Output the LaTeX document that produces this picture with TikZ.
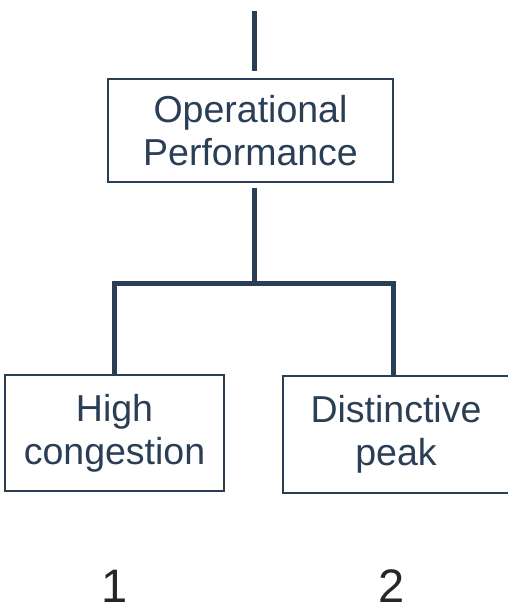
\documentclass[tikz,border=0pt]{standalone}
\usepackage{fontspec}
\setmainfont{Liberation Sans}
\usetikzlibrary{positioning}
\definecolor{navy}{HTML}{2A3E55}
\definecolor{digitgray}{HTML}{262626}
\begin{document}
\begin{tikzpicture}[x=1pt, y=-1pt]

\tikzstyle{box}=[rectangle, draw=navy, line width=1.3pt, text=navy, font=\fontsize{37.5}{43}\selectfont, align=center, inner sep=0pt]
\tikzstyle{link}=[draw=navy, line width=5pt]
\tikzstyle{num}=[text=digitgray, font=\fontsize{47}{56}\selectfont, inner sep=0pt, anchor=base]

\useasboundingbox (0,0) rectangle (507,612);

\node (op) [box, minimum width=285pt, minimum height=103pt] at (250.5,130.5) {Operational\\Performance};

\node (hi) [box, minimum width=219pt, minimum height=116pt] at (114.5,433) {High\\congestion};

\node (peak) [box, minimum width=226pt, minimum height=117pt] at (396,434.5) {Distinctive\\peak};

\node (one) [num] at (114.5,602) {1};
\node (two) [num] at (392,602) {2};

\coordinate (top) at (254,11);
\coordinate (split) at (254,283);

\draw [link] (top) -- ([yshift=7pt]top |- op.north);
\draw [link] ([yshift=-5pt]split |- op.south) -- (split);
\draw [link] (split) -| (hi.north);
\draw [link] (split) -| ([xshift=-3pt]peak.north);

\end{tikzpicture}
\end{document}
